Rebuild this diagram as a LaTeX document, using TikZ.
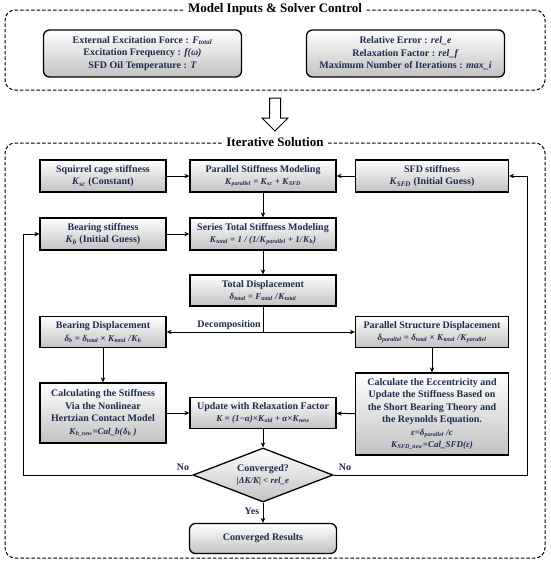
\documentclass[tikz,border=0pt]{standalone}
\usepackage{fontspec}
\setmainfont{Liberation Serif}
\usetikzlibrary{shapes.geometric,arrows.meta}
\definecolor{navy}{RGB}{30,44,82}
\newcommand{\Kx}[2]{\textit{#1}\textsubscript{\textit{#2}}}
\newcommand{\fl}{\fontsize{9}{11.5}\selectfont}
\begin{document}
\begin{tikzpicture}[x=1pt,y=-1pt,
  box/.style={draw=black, line width=1.3pt, top color=white, bottom color=black!24,
    text=navy, font=\bfseries\fontsize{10}{12.5}\selectfont, align=center, inner sep=1pt},
  ibox/.style={box, rounded corners=6pt, minimum width=198pt, minimum height=47pt},
  frame/.style={draw=black, line width=1pt, dash pattern=on 3.5pt off 2pt, rounded corners=10pt},
  ftitle/.style={fill=white, text=black, font=\bfseries\fontsize{13}{15}\selectfont, inner xsep=4pt},
  lbl/.style={text=navy, font=\bfseries\fontsize{10}{12}\selectfont},
  arr/.style={line width=1pt, -{Stealth[length=5pt,width=4.5pt]}},
  ln/.style={line width=1pt}
]
\useasboundingbox (0,0) rectangle (550,570);

% frames
\node[frame, minimum width=540pt, minimum height=80pt] (ftop) at (275,50) {};
\node[ftitle] (ttop) at (ftop.north) {Model Inputs \& Solver Control};
\node[frame, minimum width=540pt, minimum height=415pt] (fit) at (275,350.5) {};
\node[ftitle] (tit) at (fit.north) {Iterative Solution};

% inputs
\node[ibox] (in1) at (142.5,53.5) {External Excitation Force : \Kx{F}{total}\\Excitation Frequency : \textit{f(ω)}\\SFD Oil Temperature : \textit{T}};
\node[ibox] (in2) at (405.5,53.5) {Relative Error : \textit{rel\_e}\\Relaxation Factor : \textit{rel\_f}\\Maximum Number of Iterations : \textit{max\_i}};

% hollow arrow
\draw[line width=1pt, fill=white] (269.5,98) -- (280.5,98) -- (280.5,118) -- (288,118) -- (275,131) -- (262,118) -- (269.5,118) -- cycle;

% boxes
\node[box, minimum width=126pt, minimum height=32pt] (sq) at (103,176) {Squirrel cage stiffness\\\Kx{K}{sc} (Constant)};
\node[box, minimum width=146pt, minimum height=32pt] (par) at (263,176) {Parallel Stiffness Modeling\\{\fl\Kx{K}{parallel} = \Kx{K}{sc} + \Kx{K}{SFD}}};
\node[box, minimum width=153pt, minimum height=32pt] (sfd) at (432,176) {SFD stiffness\\\Kx{K}{SFD} (Initial Guess)};
\node[box, minimum width=126pt, minimum height=32pt] (bs) at (103,234) {Bearing stiffness\\\Kx{K}{b} (Initial Guess)};
\node[box, minimum width=146pt, minimum height=32pt] (ser) at (263,234) {Series Total Stiffness Modeling\\{\fl\Kx{K}{total} = \textit{1 / (1/}\Kx{K}{parallel} \textit{+ 1/}\Kx{K}{b}\textit{)}}};
\node[box, minimum width=146pt, minimum height=31pt] (tot) at (263,290.5) {Total Displacement\\{\fl\Kx{δ}{total} = \Kx{F}{total} \textit{/}\Kx{K}{total}}};
\node[box, minimum width=126pt, minimum height=31pt] (bd) at (103,332) {Bearing Displacement\\{\fl\Kx{δ}{b} = \Kx{δ}{total} × \Kx{K}{total} \textit{/}\Kx{K}{b}}};
\node[box, minimum width=153pt, minimum height=31pt] (psd) at (432,332) {Parallel Structure Displacement\\{\fl\Kx{δ}{parallel} = \Kx{δ}{total} × \Kx{K}{total} \textit{/}\Kx{K}{parallel}}};
\node[box, minimum width=126pt, minimum height=60pt] (calc) at (103,413) {Calculating the Stiffness\\Via the Nonlinear\\Hertzian Contact Model\\{\fl\Kx{K}{b\_new}\textit{=Cal\_b(}\Kx{δ}{b}\textit{ )}}};
\node[box, minimum width=146pt, minimum height=31pt] (upd) at (263,413) {Update with Relaxation Factor\\{\fl\textit{K = (1−α)×}\Kx{K}{old} \textit{+ α×}\Kx{K}{new}}};
\node[box, minimum width=153pt, minimum height=82pt] (ecc) at (432,414) {Calculate the Eccentricity and\\Update the Stiffness Based on\\the Short Bearing Theory and\\the Reynolds Equation.\\{\fl\textit{ε=}\Kx{δ}{parallel} \textit{/c}}\\{\fl\Kx{K}{SFD\_new}\textit{=Cal\_SFD(ε)}}};
\node[box, diamond, inner sep=0pt, aspect=2.6, minimum width=140pt, minimum height=54pt] (dia) at (263,475) {Converged?\\{\fl\textit{|ΔK/K| < rel\_e}}};
\node[box, rounded corners=6pt, minimum width=147pt, minimum height=30pt] (res) at (263,538.5) {Converged Results};

% connectors
\draw[arr] (sq) -- (par);
\draw[arr] (sfd) -- (par);
\draw[arr] (par) -- (ser);
\draw[arr] (bs) -- (ser);
\draw[arr] (ser) -- (tot);
\coordinate (j) at (263,332);
\draw[ln] (tot) -- (j);
\draw[arr] (j) -- (bd);
\draw[arr] (j) -- (psd);
\node[lbl, above left, inner sep=2pt] (dec) at (j) {Decomposition};
\draw[arr] (bd) -- (calc);
\draw[arr] (psd) -- (ecc);
\draw[arr] (calc) -- (upd);
\draw[arr] (ecc) -- (upd);
\draw[arr] (upd) -- (dia);
\draw[arr] (dia) -- node[lbl, left, pos=0.45] (yes) {Yes} (res);
\coordinate (lft) at (23,475);
\coordinate (rgt) at (527,475);
\draw[arr] (dia.west) -- (lft) |- (bs.west);
\draw[arr] (dia.east) -- (rgt) |- (sfd.east);
\node[lbl] (no1) at (183,467) {No};
\node[lbl] (no2) at (345,467) {No};
\end{tikzpicture}
\end{document}
